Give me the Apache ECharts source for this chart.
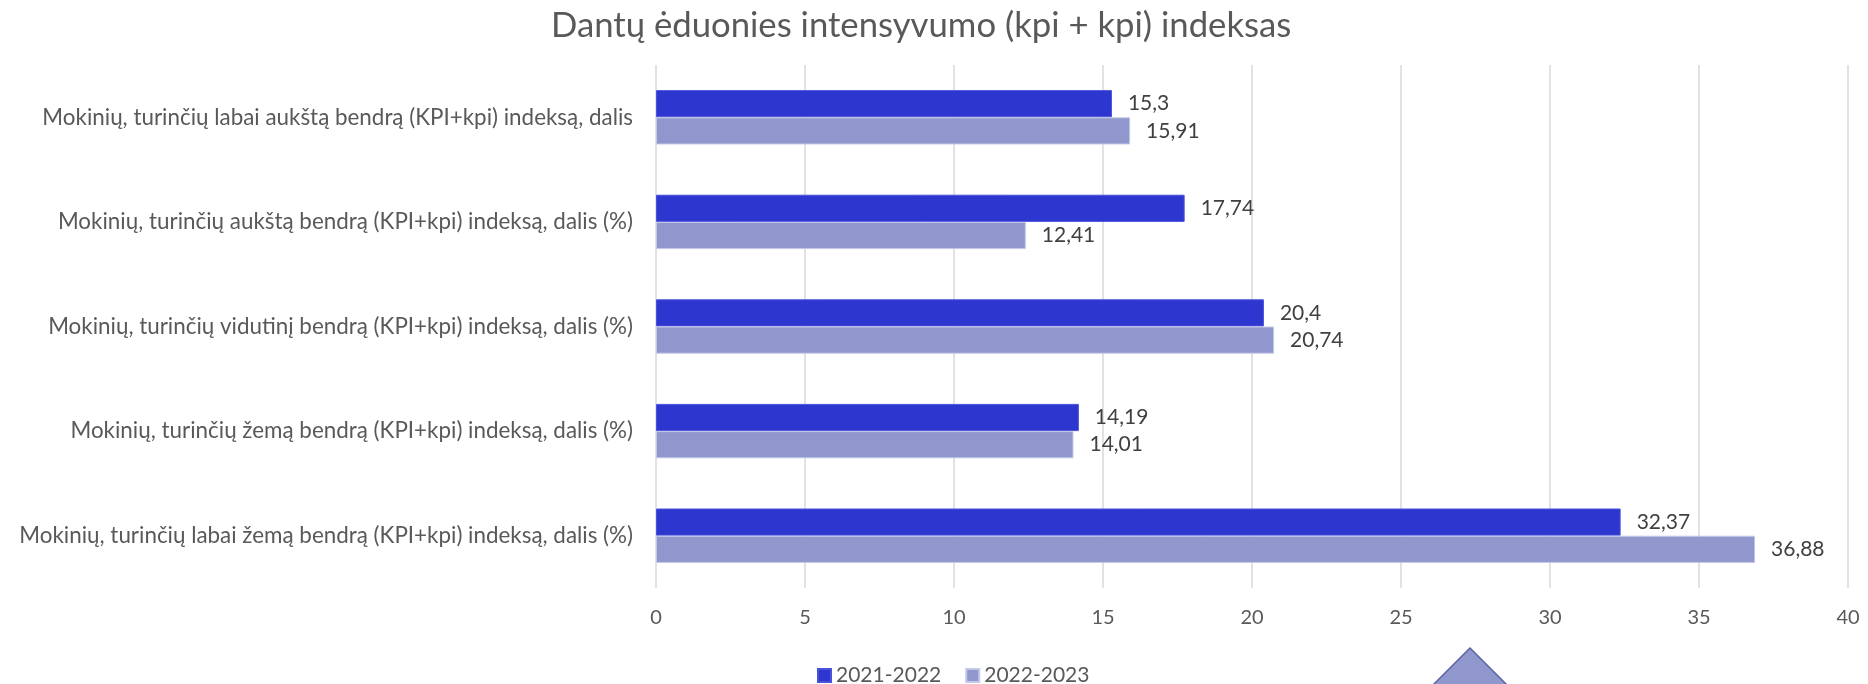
<!DOCTYPE html>
<html>
<head>
<meta charset="utf-8">
<script src="https://cdn.jsdelivr.net/npm/echarts@6/dist/echarts.min.js"></script>
<style>
html,body{margin:0;padding:0;background:#fff;}
#chart{width:1868px;height:684px;}
</style>
</head>
<body>
<div id="chart"></div>
<script>
const titleText = 'Dantų ėduonies intensyvumo (kpi + kpi) indeksas';
const categories = [
  'Mokinių, turinčių labai aukštą bendrą (KPI+kpi) indeksą, dalis',
  'Mokinių, turinčių aukštą bendrą (KPI+kpi) indeksą, dalis (%)',
  'Mokinių, turinčių vidutinį bendrą (KPI+kpi) indeksą, dalis (%)',
  'Mokinių, turinčių žemą bendrą (KPI+kpi) indeksą, dalis (%)',
  'Mokinių, turinčių labai žemą bendrą (KPI+kpi) indeksą, dalis (%)'
];
const seriesNames = ['2021-2022', '2022-2023'];
const values2021 = [15.3, 17.74, 20.4, 14.19, 32.37];
const values2022 = [15.91, 12.41, 20.74, 14.01, 36.88];
const xTicks = [0, 5, 10, 15, 20, 25, 30, 35, 40];

const FONT = 'Lato';
const fmt = p => String(p.value).replace('.', ',');

const chart = echarts.init(document.getElementById('chart'), null, {renderer: 'canvas'});
chart.setOption({
  backgroundColor: '#ffffff',
  animation: false,
  title: {
    text: titleText,
    left: 546,
    top: 3,
    textStyle: {fontFamily: FONT, fontSize: 34.7, fontWeight: 'normal', color: '#595959'}
  },
  legend: {
    data: seriesNames,
    left: 812,
    top: 660,
    icon: 'rect',
    itemWidth: 13,
    itemHeight: 13,
    itemGap: 24,
    textStyle: {fontFamily: FONT, fontSize: 21, color: '#595959'}
  },
  grid: {left: 656, right: 20, top: 65, bottom: 96, containLabel: false},
  xAxis: {
    type: 'value',
    min: xTicks[0],
    max: xTicks[xTicks.length - 1],
    interval: xTicks[1] - xTicks[0],
    axisLine: {show: false},
    axisTick: {show: false},
    splitLine: {show: true, lineStyle: {color: '#D9D9D9', width: 1.5}},
    axisLabel: {fontFamily: FONT, fontSize: 20, color: '#595959', margin: 20}
  },
  yAxis: {
    type: 'category',
    inverse: true,
    data: categories,
    axisLine: {show: false},
    axisTick: {show: false},
    axisLabel: {fontFamily: FONT, fontSize: 22.4, color: '#595959', margin: 23}
  },
  series: [
    {
      name: seriesNames[0],
      type: 'bar',
      data: values2021,
      barGap: '0%',
      barCategoryGap: '48%',
      itemStyle: {color: '#2E36D0', borderColor: '#4A52DC', borderWidth: 1},
      label: {show: true, position: 'right', distance: 16, formatter: fmt,
        fontFamily: FONT, fontSize: 21, color: '#404040'}
    },
    {
      name: seriesNames[1],
      type: 'bar',
      data: values2022,
      barGap: '0%',
      barCategoryGap: '48%',
      itemStyle: {color: '#8F97CC', borderColor: '#C4C8E6', borderWidth: 1},
      label: {show: true, position: 'right', distance: 16, formatter: fmt,
        fontFamily: FONT, fontSize: 21, color: '#404040'}
    }
  ],
  graphic: [{
    type: 'polygon',
    shape: {points: [[1470, 648], [1400, 718], [1540, 718]]},
    style: {fill: '#8F97CC', stroke: '#5A64A6', lineWidth: 1.5},
    z: 100
  }]
});
</script>
</body>
</html>
